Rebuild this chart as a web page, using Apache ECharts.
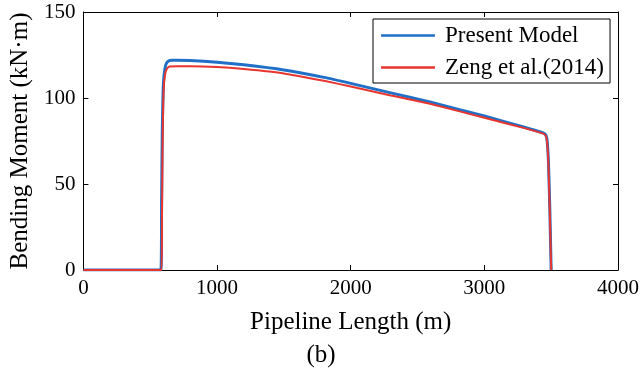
<!DOCTYPE html>
<html>
<head>
<meta charset="utf-8">
<script src="https://cdn.jsdelivr.net/npm/echarts@6/dist/echarts.min.js"></script>
<style>html,body{margin:0;padding:0;background:#fff}#c{width:642px;height:372px}</style>
</head>
<body>
<div id="c"></div>
<script>
const xTicks = [0, 1000, 2000, 3000, 4000];
const yTicks = [0, 50, 100, 150];
const seriesNames = ['Present Model', 'Zeng et al.(2014)'];

const presentX = [0, 580, 585, 590, 595, 600, 610, 620, 640, 660, 700, 800, 1000, 1200, 1500, 1800, 2000, 2300, 2600, 3000, 3300, 3440, 3460, 3470, 3480, 3490, 3497, 3500];
const presentY = [0, 0, 40, 80, 100, 110, 117, 120, 121.7, 122, 122, 121.8, 120.8, 119.3, 116.3, 112, 108.5, 103, 97.5, 89.5, 83, 79.7, 78.5, 75, 62, 35, 10, 0];

const zengX = [0, 585, 588, 592, 597, 603, 612, 625, 645, 700, 800, 1000, 1200, 1500, 1800, 2000, 2300, 2600, 3000, 3300, 3440, 3460, 3470, 3480, 3490, 3497, 3500];
const zengY = [0, 0, 30, 70, 95, 108, 114, 117, 118.3, 118.5, 118.5, 118, 116.8, 114.3, 110, 106.7, 101.5, 96.5, 88.5, 82.5, 79.3, 78, 74, 60, 33, 10, 0];

const pair = (xs, ys) => xs.map((x, i) => [x, ys[i]]);
const FONT = "'Liberation Serif', 'Times New Roman', serif";
const BLUE = '#1f70c6', RED = '#e8352e';

const chart = echarts.init(document.getElementById('c'), null, {renderer: 'canvas'});
const axisCommon = {
  type: 'value',
  axisLine: {show: true, onZero: false, lineStyle: {color: '#000', width: 1}},
  axisTick: {show: true, inside: true, length: 5, lineStyle: {color: '#000'}},
  splitLine: {show: false}
};
const plain = v => String(v);
chart.setOption({
  animation: false,
  backgroundColor: '#fff',
  title: {
    text: '(b)', left: 'center', top: 338,
    textStyle: {fontFamily: FONT, fontSize: 25, fontWeight: 'normal', color: '#000'}
  },
  grid: {left: 81, right: 23, top: 12, bottom: 102, containLabel: false},
  legend: {
    orient: 'vertical', left: 373, top: 19,
    data: [
      {name: seriesNames[0], icon: 'rect', itemStyle: {color: BLUE}},
      {name: seriesNames[1], icon: 'rect', itemStyle: {color: RED}}
    ],
    borderColor: '#000', borderWidth: 1, backgroundColor: '#fff',
    padding: [5, 6, 4, 8], itemGap: 9, itemWidth: 54, itemHeight: 2.5,
    textStyle: {fontFamily: FONT, fontSize: 23, color: '#000', lineHeight: 23, padding: [0, 0, 0, 5]}
  },
  xAxis: [
    Object.assign({}, axisCommon, {
      min: xTicks[0], max: xTicks[xTicks.length - 1], interval: 1000, position: 'bottom',
      name: 'Pipeline Length (m)', nameLocation: 'middle', nameGap: 40,
      nameTextStyle: {fontFamily: FONT, fontSize: 25, color: '#000'},
      axisLabel: {fontFamily: FONT, fontSize: 21, color: '#000', margin: 8, formatter: plain}
    }),
    Object.assign({}, axisCommon, {
      min: xTicks[0], max: xTicks[xTicks.length - 1], interval: 1000, position: 'top',
      axisLabel: {show: false}
    })
  ],
  yAxis: [
    Object.assign({}, axisCommon, {
      min: yTicks[0], max: yTicks[yTicks.length - 1], interval: 50, position: 'left',
      name: 'Bending Moment (kN·m)', nameLocation: 'middle', nameGap: 50,
      nameTextStyle: {fontFamily: FONT, fontSize: 25, color: '#000'},
      axisLabel: {fontFamily: FONT, fontSize: 21, color: '#000', margin: 8, formatter: plain}
    }),
    Object.assign({}, axisCommon, {
      min: yTicks[0], max: yTicks[yTicks.length - 1], interval: 50, position: 'right',
      axisLabel: {show: false}
    })
  ],
  series: [
    {
      name: seriesNames[0], type: 'line', xAxisIndex: 0, yAxisIndex: 0,
      data: pair(presentX, presentY), symbol: 'none', showSymbol: false,
      smooth: 0.15, lineStyle: {color: BLUE, width: 3}, itemStyle: {color: BLUE}
    },
    {
      name: seriesNames[1], type: 'line', xAxisIndex: 0, yAxisIndex: 0,
      data: pair(zengX, zengY), symbol: 'none', showSymbol: false,
      smooth: 0.15, lineStyle: {color: RED, width: 2}, itemStyle: {color: RED}
    }
  ]
});
</script>
</body>
</html>
